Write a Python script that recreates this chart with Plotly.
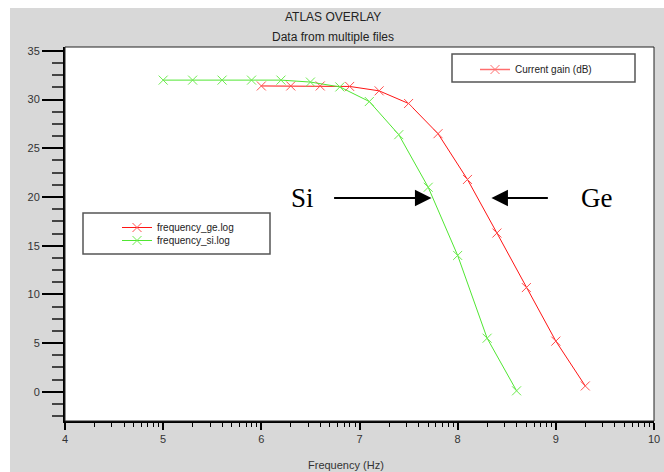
import plotly.graph_objects as go

# ---- data (log10 of frequency in Hz, current gain in dB) ----
ge_logf = [6.0, 6.3, 6.6, 6.9, 7.2, 7.5, 7.8, 8.1, 8.4, 8.7, 9.0, 9.3]
ge_gain = [31.4, 31.4, 31.4, 31.35, 30.9, 29.6, 26.5, 21.8, 16.3, 10.7, 5.2, 0.6]
si_logf = [5.0, 5.3, 5.6, 5.9, 6.2, 6.5, 6.8, 7.1, 7.4, 7.7, 8.0, 8.3, 8.6]
si_gain = [32.0, 32.0, 32.0, 32.0, 32.0, 31.8, 31.3, 29.8, 26.4, 21.0, 14.0, 5.5, 0.1]
x_tick_exps = [4, 5, 6, 7, 8, 9, 10]
y_ticks = [0, 5, 10, 15, 20, 25, 30, 35]

ge_freq = [10 ** v for v in ge_logf]
si_freq = [10 ** v for v in si_logf]

RED = "rgb(255,20,20)"
RED_MK = "rgb(255,80,80)"
GREEN = "rgb(80,230,50)"
GREEN_MK = "rgb(110,235,80)"
LIGHTRED = "rgb(255,110,110)"
FONT = "Liberation Sans, Arial, sans-serif"

fig = go.Figure()
fig.add_trace(go.Scatter(x=ge_freq, y=ge_gain, mode="lines+markers", name="frequency_ge.log",
                         line=dict(color=RED, width=1),
                         marker=dict(symbol="x-thin", size=9, line=dict(color=RED_MK, width=1), color=RED_MK),
                         legend="legend"))
fig.add_trace(go.Scatter(x=si_freq, y=si_gain, mode="lines+markers", name="frequency_si.log",
                         line=dict(color=GREEN, width=1),
                         marker=dict(symbol="x-thin", size=9, line=dict(color=GREEN_MK, width=1), color=GREEN_MK),
                         legend="legend3"))
fig.add_trace(go.Scatter(x=[None], y=[None], mode="lines+markers", name="Current gain (dB)",
                         line=dict(color=LIGHTRED, width=1.5),
                         marker=dict(symbol="x-thin", size=9, line=dict(color=LIGHTRED, width=1)),
                         legend="legend2"))

# plot area in px: x 65..654, y 47..421
def px(xp):
    return (xp - 65) / 589.0

def py(yp):
    return (421 - yp) / 374.0

shapes = [
    dict(type="rect", xref="paper", yref="paper", x0=px(10), x1=px(664), y0=py(472), y1=py(8),
         fillcolor="#d8d8d8", line=dict(width=0), layer="below"),
    dict(type="rect", xref="paper", yref="paper", x0=0, x1=1, y0=0, y1=1,
         fillcolor="white", line=dict(width=0), layer="below"),
    dict(type="rect", xref="paper", yref="paper", x0=0, x1=1, y0=0, y1=1,
         line=dict(color="#222", width=1), layer="above"),
    # legend boxes
    dict(type="rect", xref="paper", yref="paper", x0=px(83), x1=px(270), y0=py(254), y1=py(213),
         line=dict(color="#555", width=1.5), fillcolor="rgba(0,0,0,0)"),
    dict(type="rect", xref="paper", yref="paper", x0=px(452), x1=px(635), y0=py(82), y1=py(54),
         line=dict(color="#555", width=1.5), fillcolor="rgba(0,0,0,0)"),
]

annotations = [
    dict(text="ATLAS OVERLAY", x=px(333), y=py(17), xref="paper", yref="paper", showarrow=False,
         xanchor="center", yanchor="middle", font=dict(family=FONT, size=12, color="#222")),
    dict(text="Data from multiple files", x=px(333), y=py(37), xref="paper", yref="paper", showarrow=False,
         xanchor="center", yanchor="middle", font=dict(family=FONT, size=12, color="#222")),
    dict(text="Frequency (Hz)", x=px(346), y=py(465), xref="paper", yref="paper", showarrow=False,
         xanchor="center", yanchor="middle", font=dict(family=FONT, size=11, color="#333")),
    dict(text="Si", x=6.42, y=19.9, xref="x", yref="y", showarrow=False,
         xanchor="center", yanchor="middle",
         font=dict(family="Liberation Serif, Times New Roman, serif", size=27, color="black")),
    dict(text="Ge", x=9.41, y=19.9, xref="x", yref="y", showarrow=False,
         xanchor="center", yanchor="middle",
         font=dict(family="Liberation Serif, Times New Roman, serif", size=27, color="black")),
    dict(text="", x=7.733, y=19.9, ax=6.726, ay=19.9, xref="x", yref="y", axref="x", ayref="y",
         showarrow=True, arrowhead=2, arrowsize=1.65, arrowwidth=2, arrowcolor="black"),
    dict(text="", x=8.344, y=19.9, ax=8.934, ay=19.9, xref="x", yref="y", axref="x", ayref="y",
         showarrow=True, arrowhead=2, arrowsize=1.65, arrowwidth=2, arrowcolor="black"),
]

legend_style = dict(xanchor="left", yanchor="top", bgcolor="rgba(0,0,0,0)", borderwidth=0,
                    font=dict(family=FONT, size=10, color="#222"))

fig.update_layout(
    width=664, height=472,
    margin=dict(l=65, r=10, t=47, b=51, autoexpand=False),
    paper_bgcolor="white", plot_bgcolor="white",
    font=dict(family=FONT, size=11, color="#333"),
    showlegend=True,
    legend=dict(x=px(117), y=py(213), **legend_style),
    legend3=dict(x=px(117), y=py(226), **legend_style),
    legend2=dict(x=px(475), y=py(55), **legend_style),
    shapes=shapes,
    annotations=annotations,
    xaxis=dict(type="log", range=[4, 10], automargin=False,
               tickmode="array", tickvals=[10 ** k for k in x_tick_exps],
               ticktext=[str(k) for k in x_tick_exps],
               ticks="outside", ticklen=7, tickwidth=2, tickcolor="black",
               showline=True, linewidth=2, linecolor="black",
               showgrid=False, zeroline=False,
               minor=dict(dtick="D1", ticks="outside", ticklen=4, tickwidth=1, tickcolor="black", showgrid=False),
               tickfont=dict(family=FONT, size=11, color="#333")),
    yaxis=dict(range=[-3, 35.4], tickmode="array", tickvals=y_ticks, automargin=False,
               ticks="outside", ticklen=21, tickwidth=2, tickcolor="black",
               showline=True, linewidth=2, linecolor="black",
               showgrid=False, zeroline=False,
               minor=dict(tick0=0, dtick=1.25, ticks="outside", ticklen=11, tickwidth=1.5, tickcolor="#444", showgrid=False),
               tickfont=dict(family=FONT, size=11, color="#333")),
)

fig.write_html("out.html")
